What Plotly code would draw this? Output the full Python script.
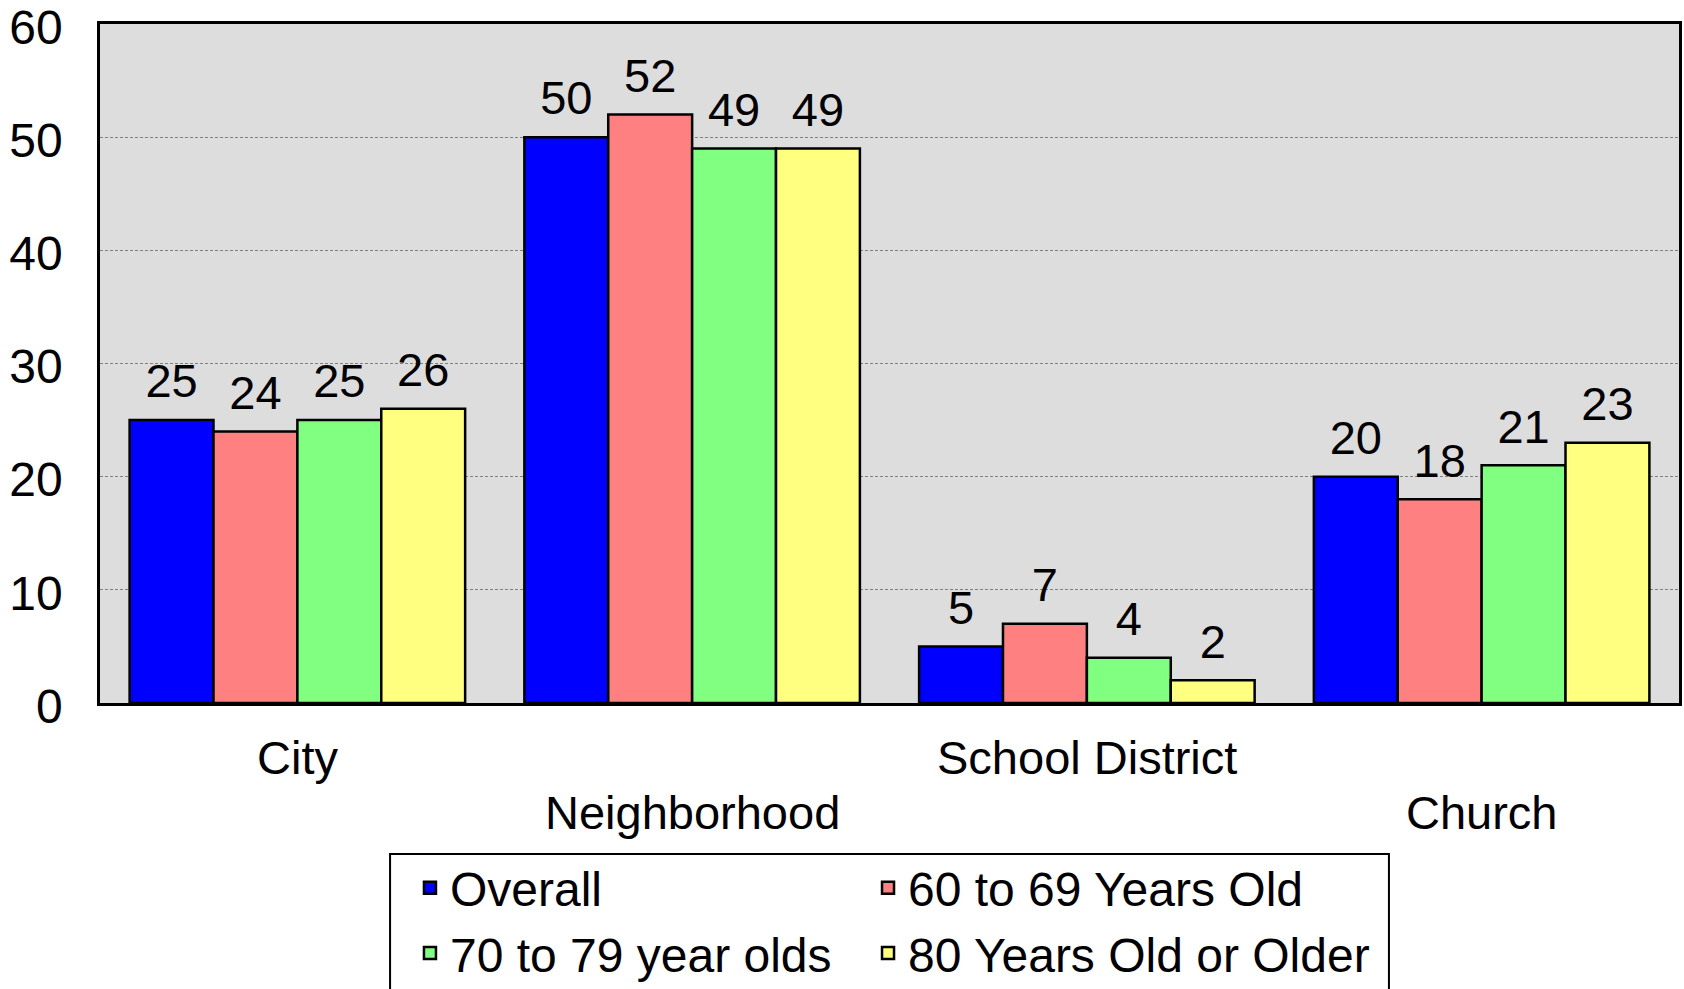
import plotly.graph_objects as go

categories = ["City", "Neighborhood", "School District", "Church"]
series_names = ["Overall", "60 to 69 Years Old", "70 to 79 year olds", "80 Years Old or Older"]
overall = [25, 50, 5, 20]
age_60_69 = [24, 52, 7, 18]
age_70_79 = [25, 49, 4, 21]
age_80_plus = [26, 49, 2, 23]
colors = ["#0000FF", "#FF8080", "#80FF80", "#FFFF80"]
legend_column = ["legend", "legend2", "legend", "legend2"]
y_ticks = [0, 10, 20, 30, 40, 50, 60]
label_row = [0, 1, 0, 1]  # which text line each category label sits on

FONT = "Liberation Sans, Arial, sans-serif"

fig = go.Figure()
all_vals = [overall, age_60_69, age_70_79, age_80_plus]
for name, vals, col, lg in zip(series_names, all_vals, colors, legend_column):
    fig.add_trace(go.Bar(
        x=categories, y=vals, name=name, legend=lg,
        marker=dict(color=col, line=dict(color="black", width=2.5)),
    ))
# value labels, grouped like the bars
for name, vals in zip(series_names, all_vals):
    fig.add_trace(go.Scatter(
        x=categories, y=vals, mode="markers+text", showlegend=False,
        text=[str(v) for v in vals], textposition="top center",
        textfont=dict(family=FONT, size=47, color="black"),
        marker=dict(size=16, opacity=0), hoverinfo="skip", cliponaxis=False,
    ))

for cat, row in zip(categories, label_row):
    fig.add_annotation(
        x=cat, y=0, xref="x", yref="y", text=cat, showarrow=False,
        yanchor="middle", yshift=-54 - 55 * row,
        font=dict(family=FONT, size=47, color="black"),
    )

# legend frame
fig.add_shape(type="rect", xref="paper", yref="paper",
              x0=0.1837, x1=0.8163, y0=-0.4374, y1=-0.2224,
              line=dict(color="black", width=2), fillcolor="white", layer="above")

legend_common = dict(
    orientation="v", xanchor="left", yanchor="top", y=-0.2165,
    bgcolor="rgba(0,0,0,0)", borderwidth=0, tracegroupgap=0,
    font=dict(family=FONT, size=48, color="black"), traceorder="normal",
)

fig.update_layout(
    width=1684, height=989,
    margin=dict(l=100, r=5, t=24, b=286, autoexpand=False),
    paper_bgcolor="white", plot_bgcolor="#DDDDDD",
    barmode="group", bargap=0.15, bargroupgap=0,
    scattermode="group", scattergap=0.15,
    font=dict(family=FONT, color="black"),
    showlegend=True,
    legend=dict(x=0.1963, **legend_common),
    legend2=dict(x=0.4864, **legend_common),
)
fig.update_xaxes(
    showticklabels=False, showline=True, linecolor="black", linewidth=2.5,
    mirror=True, ticks="", automargin=False,
)
fig.update_yaxes(
    range=[0, 60], tickvals=y_ticks, showline=True, linecolor="black", linewidth=2.5,
    mirror=True, ticks="", showgrid=True, gridcolor="#808080", gridwidth=1,
    griddash="3px,2px", zeroline=False, ticklabelstandoff=25, automargin=False,
    ticklabeloverflow="allow", ticklabelshift=3,
    tickfont=dict(family=FONT, size=48, color="black"),
)

fig.write_html("out.html", config={"displayModeBar": False},
               post_script="document.body.style.margin='0';document.body.style.overflow='hidden';")
